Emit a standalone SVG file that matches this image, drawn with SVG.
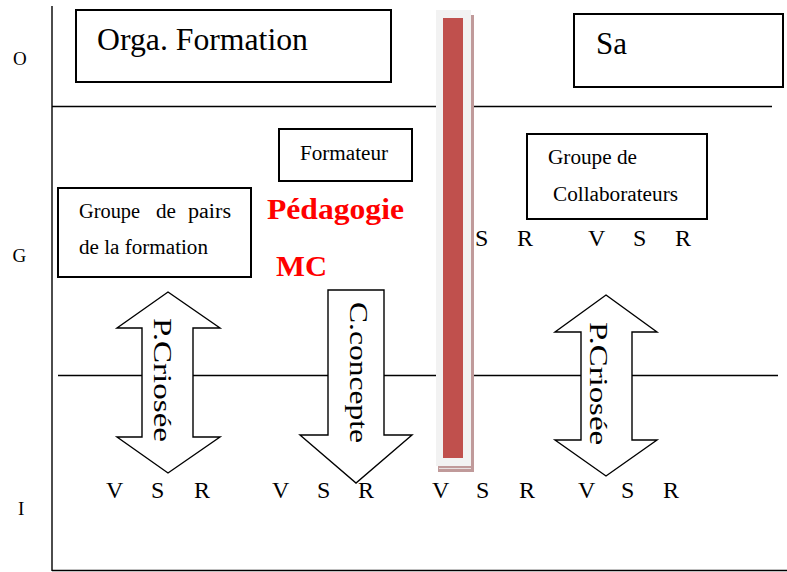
<svg xmlns="http://www.w3.org/2000/svg" width="787" height="572" viewBox="0 0 787 572">
<style>
.box{fill:#fff;stroke:#000;stroke-width:2}
.ln{stroke:#000;stroke-width:1.4;fill:none}
.arr{fill:#fff;stroke:#000;stroke-width:1.4;stroke-linejoin:miter}
</style>
<rect width="787" height="572" fill="#fff"/>
<g id="axes">
<line class="ln" x1="52" y1="6" x2="52" y2="571"/>
<line class="ln" x1="52" y1="570.5" x2="787" y2="570.5"/>
<line class="ln" x1="52" y1="106.5" x2="772" y2="106.5"/>
<line class="ln" x1="58" y1="375.5" x2="778" y2="375.5"/>
</g>
<g id="levels" font-family="Times New Roman" font-size="19">
<text x="13" y="65">O</text>
<text x="12.5" y="262">G</text>
<text x="18" y="515">I</text>
</g>
<g id="orga">
<rect class="box" x="76" y="10" width="315" height="72"/>
<text font-family="Times New Roman" font-size="31" x="97" y="50" textLength="211" lengthAdjust="spacingAndGlyphs">Orga. Formation</text>
</g>
<g id="sa">
<rect class="box" x="574" y="14" width="209" height="73"/>
<text font-family="Times New Roman" font-size="31" x="596" y="54">Sa</text>
</g>
<g id="formateur">
<rect class="box" x="279" y="129" width="133" height="52"/>
<text font-family="Times New Roman" font-size="20" x="300" y="160" textLength="88" lengthAdjust="spacingAndGlyphs">Formateur</text>
</g>
<g id="pairs" font-family="Times New Roman" font-size="20">
<rect class="box" x="58" y="188" width="193" height="89"/>
<text x="79" y="218" textLength="61" lengthAdjust="spacingAndGlyphs">Groupe</text>
<text x="156" y="218" textLength="20" lengthAdjust="spacingAndGlyphs">de</text>
<text x="188" y="218" textLength="43" lengthAdjust="spacingAndGlyphs">pairs</text>
<text x="79" y="254" textLength="129" lengthAdjust="spacingAndGlyphs">de la formation</text>
</g>
<g id="collab" font-family="Times New Roman" font-size="20">
<rect class="box" x="527" y="134" width="180" height="85"/>
<text x="548" y="164" textLength="89" lengthAdjust="spacingAndGlyphs">Groupe de</text>
<text x="553" y="201" textLength="125" lengthAdjust="spacingAndGlyphs">Collaborateurs</text>
</g>
<g id="pedagogie" font-family="Times New Roman" font-size="30" font-weight="bold" fill="#ff0000">
<text x="267" y="219" textLength="137" lengthAdjust="spacingAndGlyphs">Pédagogie</text>
<text x="276" y="276" textLength="51" lengthAdjust="spacingAndGlyphs">MC</text>
</g>
<g id="connectors" font-family="Times New Roman" font-size="26">
<g id="arrow-left">
<polygon class="arr" points="168,292 220,328 193,328 193,437 220,437 168,473 117,437 142,437 142,328 117,328"/>
<text transform="translate(153.5,318) rotate(90)" textLength="124" lengthAdjust="spacingAndGlyphs">P.Criosée</text>
</g>
<g id="arrow-down">
<polygon class="arr" points="328,290 384,290 384,435 412,435 356,483 300,435 328,435"/>
<text transform="translate(349.5,302) rotate(90)" textLength="141" lengthAdjust="spacingAndGlyphs">C.concepte</text>
</g>
<g id="arrow-right">
<polygon class="arr" points="606,295 657,332 632,332 632,440 657,440 606,476 555,440 581,440 581,332 555,332"/>
<text transform="translate(590,322) rotate(90)" textLength="123" lengthAdjust="spacingAndGlyphs">P.Criosée</text>
</g>
</g>
<g id="bar">
<rect x="438" y="15" width="36" height="457" fill="#c09a9a"/>
<rect x="436" y="10" width="35" height="456" fill="#f2f2f2"/>
<line x1="439" y1="468.5" x2="471" y2="468.5" stroke="#e8e0e0" stroke-width="1"/>
<rect x="443" y="18" width="20" height="440" fill="#c0504d"/>
</g>
<g id="vsr-top" font-family="Times New Roman" font-size="24">
<text x="475" y="246">S</text>
<text x="517" y="246">R</text>
<text x="588" y="246">V</text>
<text x="633" y="246">S</text>
<text x="675" y="246">R</text>
</g>
<g id="vsr-bottom" font-family="Times New Roman" font-size="24">
<text x="106" y="498">V</text>
<text x="151" y="498">S</text>
<text x="194" y="498">R</text>
<text x="272" y="498">V</text>
<text x="317" y="498">S</text>
<text x="358" y="498">R</text>
<text x="432" y="498">V</text>
<text x="476" y="498">S</text>
<text x="519" y="498">R</text>
<text x="578" y="498">V</text>
<text x="621" y="498">S</text>
<text x="663" y="498">R</text>
</g>
</svg>
